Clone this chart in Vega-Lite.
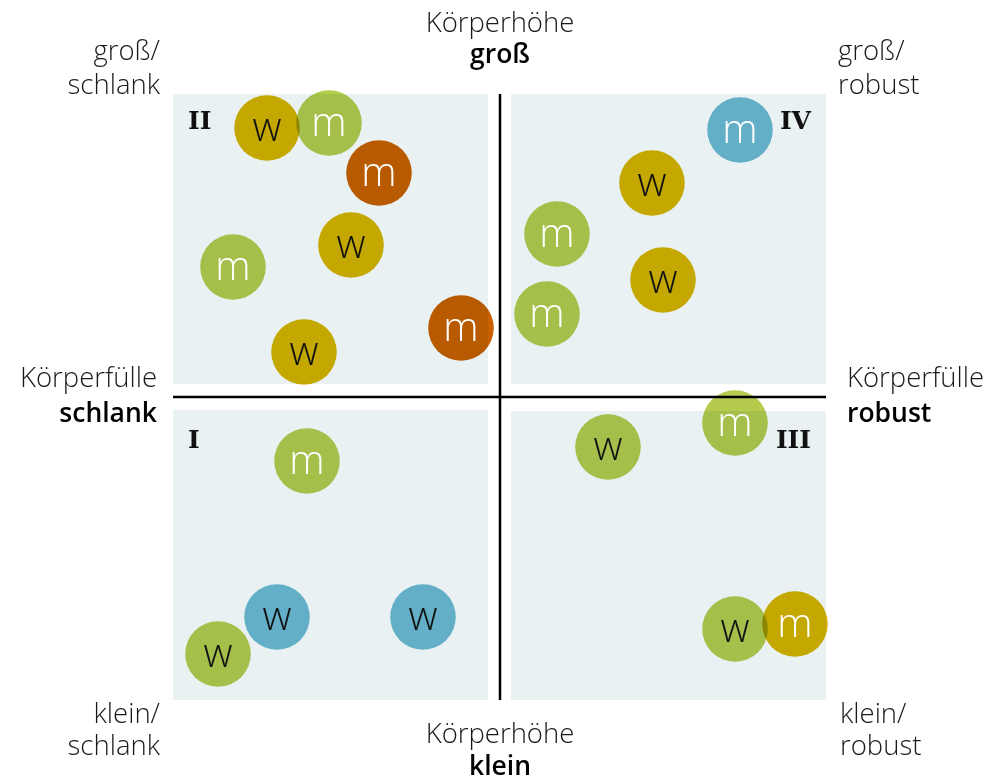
{
  "$schema": "https://vega.github.io/schema/vega-lite/v6.json",
  "width": 1005,
  "height": 781,
  "autosize": {"type": "fit", "contains": "padding"},
  "padding": 0,
  "background": "white",
  "config": {"view": {"stroke": null}},
  "datasets": {
    "panels": [
      {"q": "I", "x": -327, "x2": -12, "y": -303, "y2": -13},
      {"q": "II", "x": -327, "x2": -12, "y": 13, "y2": 303},
      {"q": "III", "x": 11, "x2": 326, "y": -303, "y2": -14},
      {"q": "IV", "x": 11, "x2": 326, "y": 13, "y2": 303}
    ],
    "axes": [
      {"x": -327, "x2": 326, "y": 0, "y2": 0},
      {"x": 0, "x2": 0, "y": -303, "y2": 303}
    ],
    "people": [
      {"q": "II", "g": "w", "grp": "gelb", "x": -233, "y": 269},
      {"q": "II", "g": "m", "grp": "grün", "x": -171, "y": 274},
      {"q": "II", "g": "m", "grp": "orange", "x": -121, "y": 224},
      {"q": "II", "g": "w", "grp": "gelb", "x": -149, "y": 152},
      {"q": "II", "g": "m", "grp": "grün", "x": -267, "y": 130},
      {"q": "II", "g": "m", "grp": "orange", "x": -39, "y": 69},
      {"q": "II", "g": "w", "grp": "gelb", "x": -196, "y": 45},
      {"q": "IV", "g": "m", "grp": "blau", "x": 240, "y": 267},
      {"q": "IV", "g": "w", "grp": "gelb", "x": 152, "y": 214},
      {"q": "IV", "g": "m", "grp": "grün", "x": 57, "y": 163},
      {"q": "IV", "g": "w", "grp": "gelb", "x": 163, "y": 117},
      {"q": "IV", "g": "m", "grp": "grün", "x": 47, "y": 83},
      {"q": "III", "g": "w", "grp": "grün", "x": 108, "y": -50},
      {"q": "III", "g": "m", "grp": "grün", "x": 235, "y": -26},
      {"q": "III", "g": "w", "grp": "grün", "x": 235, "y": -232},
      {"q": "III", "g": "m", "grp": "gelb", "x": 295, "y": -227},
      {"q": "I", "g": "m", "grp": "grün", "x": -193, "y": -64},
      {"q": "I", "g": "w", "grp": "grün", "x": -282, "y": -257},
      {"q": "I", "g": "w", "grp": "blau", "x": -223, "y": -220},
      {"q": "I", "g": "w", "grp": "blau", "x": -77, "y": -220}
    ]
  },
  "encoding": {
    "x": {"type": "quantitative", "scale": {"domain": [-500, 505], "nice": false, "zero": false}, "axis": null},
    "y": {"type": "quantitative", "scale": {"domain": [-384, 397], "nice": false, "zero": false}, "axis": null}
  },
  "layer": [
    {
      "data": {"name": "panels"},
      "mark": {"type": "rect", "color": "#e9f1f3"},
      "encoding": {"x": {"field": "x"}, "x2": {"field": "x2"}, "y": {"field": "y"}, "y2": {"field": "y2"}}
    },
    {
      "data": {"name": "axes"},
      "mark": {"type": "rule", "color": "#000000", "strokeWidth": 2.5},
      "encoding": {"x": {"field": "x"}, "x2": {"field": "x2"}, "y": {"field": "y"}, "y2": {"field": "y2"}}
    },
    {
      "data": {"name": "people"},
      "mark": {"type": "circle", "size": 4300, "opacity": 1, "blend": "multiply"},
      "encoding": {
        "x": {"field": "x"},
        "y": {"field": "y"},
        "color": {"field": "grp", "type": "nominal", "legend": null,
          "scale": {"domain": ["gelb", "grün", "orange", "blau"], "range": ["#d7b200", "#b4cb4e", "#ca5f00", "#6cb9d2"]}}
      }
    },
    {
      "data": {"name": "people"},
      "mark": {"type": "text", "font": "Open Sans", "fontWeight": 300, "fontSize": 40, "align": "center", "baseline": "middle", "dy": 1},
      "encoding": {
        "x": {"field": "x"},
        "y": {"field": "y"},
        "text": {"field": "g"},
        "color": {"condition": {"test": "datum.g === 'm'", "value": "#ffffff"}, "value": "#111111"}
      }
    },
    {
      "data": {"values": [
        {"t": "II", "x": -312, "y": 268},
        {"t": "I", "x": -312, "y": -51}
      ]},
      "mark": {"type": "text", "font": "DejaVu Serif", "fontWeight": "bold", "fontSize": 25, "align": "left", "baseline": "alphabetic", "color": "#111111"},
      "encoding": {"x": {"field": "x"}, "y": {"field": "y"}, "text": {"field": "t"}}
    },
    {
      "data": {"values": [
        {"t": "IV", "x": 311, "y": 268},
        {"t": "III", "x": 311, "y": -51}
      ]},
      "mark": {"type": "text", "font": "DejaVu Serif", "fontWeight": "bold", "fontSize": 25, "align": "right", "baseline": "alphabetic", "color": "#111111"},
      "encoding": {"x": {"field": "x"}, "y": {"field": "y"}, "text": {"field": "t"}}
    },
    {
      "data": {"values": [
        {"t": "Körperhöhe", "x": 0, "y": 365},
        {"t": "Körperhöhe", "x": 0, "y": -346}
      ]},
      "mark": {"type": "text", "font": "Open Sans", "fontWeight": 300, "fontSize": 27.5, "align": "center", "baseline": "alphabetic", "color": "#1a1a1a"},
      "encoding": {"x": {"field": "x"}, "y": {"field": "y"}, "text": {"field": "t"}}
    },
    {
      "data": {"values": [
        {"t": "groß", "x": 0, "y": 334},
        {"t": "klein", "x": 0, "y": -378}
      ]},
      "mark": {"type": "text", "font": "Open Sans", "fontWeight": 600, "fontSize": 26.5, "align": "center", "baseline": "alphabetic", "color": "#000000"},
      "encoding": {"x": {"field": "x"}, "y": {"field": "y"}, "text": {"field": "t"}}
    },
    {
      "data": {"values": [
        {"t": "groß/", "x": -340, "y": 337},
        {"t": "schlank", "x": -340, "y": 303},
        {"t": "Körperfülle", "x": -343, "y": 10},
        {"t": "klein/", "x": -340, "y": -326},
        {"t": "schlank", "x": -340, "y": -358}
      ]},
      "mark": {"type": "text", "font": "Open Sans", "fontWeight": 300, "fontSize": 27.5, "align": "right", "baseline": "alphabetic", "color": "#1a1a1a"},
      "encoding": {"x": {"field": "x"}, "y": {"field": "y"}, "text": {"field": "t"}}
    },
    {
      "data": {"values": [
        {"t": "schlank", "x": -343, "y": -25}
      ]},
      "mark": {"type": "text", "font": "Open Sans", "fontWeight": 600, "fontSize": 26.5, "align": "right", "baseline": "alphabetic", "color": "#000000"},
      "encoding": {"x": {"field": "x"}, "y": {"field": "y"}, "text": {"field": "t"}}
    },
    {
      "data": {"values": [
        {"t": "groß/", "x": 338, "y": 337},
        {"t": "robust", "x": 338, "y": 303},
        {"t": "Körperfülle", "x": 347, "y": 10},
        {"t": "klein/", "x": 340, "y": -326},
        {"t": "robust", "x": 340, "y": -358}
      ]},
      "mark": {"type": "text", "font": "Open Sans", "fontWeight": 300, "fontSize": 27.5, "align": "left", "baseline": "alphabetic", "color": "#1a1a1a"},
      "encoding": {"x": {"field": "x"}, "y": {"field": "y"}, "text": {"field": "t"}}
    },
    {
      "data": {"values": [
        {"t": "robust", "x": 347, "y": -25}
      ]},
      "mark": {"type": "text", "font": "Open Sans", "fontWeight": 600, "fontSize": 26.5, "align": "left", "baseline": "alphabetic", "color": "#000000"},
      "encoding": {"x": {"field": "x"}, "y": {"field": "y"}, "text": {"field": "t"}}
    }
  ]
}
